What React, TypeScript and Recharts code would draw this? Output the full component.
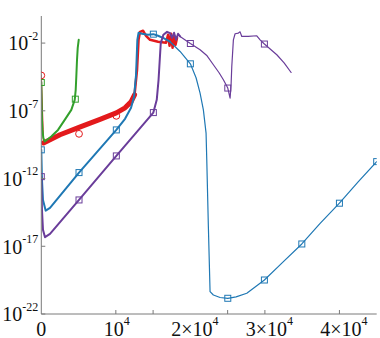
import React from 'react';
import { ComposedChart, Line, Scatter, XAxis, YAxis } from 'recharts';

// ---- data (x in iterations, y as log10 exponents) ----
const greenX = [0, 90, 160, 270, 456, 1342, 2241, 3141, 4027, 4483, 4617, 4698, 4792, 4886, 5020];
const greenE = [-4.88, -7.67, -8.41, -9.0, -9.27, -8.9, -8.41, -7.67, -6.93, -6.19, -5.45, -4.47, -3.23, -2.35, -1.76];
const greenMarkX = [0, 4564];
const greenMarkE = [-4.91, -6.14];

const redStartX = [0, 228, 295];
const redStartE = [-4.39, -8.26, -9.37];
const redBandX = [295, 2510, 5060, 7879, 10067, 11235, 12040, 12510];
const redBandE = [-9.37, -8.77, -8.22, -7.63, -7.15, -6.78, -6.34, -5.82];
const redTopX = [12510, 12846, 13047, 13248, 13651, 14054, 14591, 15664, 16738, 17007, 17208, 17409, 17611, 17812, 18013, 18215];
const redTopE = [-5.82, -3.97, -1.76, -1.17, -1.09, -1.46, -1.76, -1.9, -1.98, -1.39, -2.2, -1.31, -2.35, -1.46, -2.13, -1.61];
const redMarkX = [0, 5060, 10067];
const redMarkE = [-4.39, -8.7, -7.37];

const blueAX = [0, 90, 228, 591, 1168, 5060, 10067, 11235, 12040, 12443, 12711, 12886, 13047, 13517, 14322, 15034, 15664, 16470, 17275];
const blueAE = [-9.88, -12.1, -13.58, -14.37, -14.17, -11.56, -8.41, -7.59, -6.78, -5.97, -4.34, -1.76, -1.24, -1.31, -1.39, -1.34, -1.46, -1.65, -1.9];
const blueBX = [17275, 18617, 20000, 20765, 21302, 21745, 22107, 22201, 22416, 22644, 23087, 23986, 25020, 26134, 27570, 29933, 32309, 34953, 37409, 40000, 42510, 45000];
const blueBE = [-1.9, -2.62, -3.53, -4.56, -5.69, -6.93, -8.65, -10.62, -15.55, -20.35, -20.6, -20.78, -20.84, -20.74, -20.47, -19.49, -18.23, -16.83, -15.31, -13.82, -12.25, -10.75];
const blueMarkX = [0, 5060, 10067, 15034, 20000, 25020, 29933, 34953, 40000, 45000];
const blueMarkE = [-9.88, -11.56, -8.41, -1.34, -3.53, -20.84, -19.49, -16.83, -13.82, -10.75];

const purpleAX = [0, 90, 228, 497, 1168, 5060, 10067, 15034, 15490, 15732, 15839, 16027, 16376, 16873, 17275, 17543, 17812, 18080, 18349, 18617];
const purpleAE = [-11.86, -14.32, -15.79, -16.33, -16.09, -13.58, -10.33, -7.13, -6.19, -4.71, -3.73, -2.0, -1.39, -1.17, -1.26, -1.61, -1.24, -1.76, -1.31, -1.51];
const purpleBX = [18617, 20000, 21302, 22242, 23087, 23852, 24430, 25020, 25329, 25463, 25557, 25772, 26000, 26443, 26671, 26899, 27745, 28913, 29356, 29933, 31597, 32577, 33517];
const purpleBE = [-1.51, -2.03, -2.49, -2.94, -3.6, -4.19, -4.71, -5.32, -6.06, -5.08, -3.73, -1.76, -1.31, -1.26, -1.17, -1.51, -1.5, -1.46, -1.76, -2.07, -2.86, -3.46, -4.17];
const purpleMarkX = [0, 5060, 10067, 15034, 20000, 25020, 29933];
const purpleMarkE = [-11.86, -13.58, -10.33, -7.13, -2.03, -5.32, -2.07];

const xTickValues = [0, 10000, 15000, 20000, 25000, 30000, 40000];
const xTickMarkValues = [10000, 15000, 25000, 30000, 40000];
const xLabelValues = [0, 10000, 20000, 30000, 40000];
const xLabelBase = ['0', '10', '2\u00d710', '3\u00d710', '4\u00d710'];
const xLabelSup = ['', '4', '4', '4', '4'];

const yTickExps = [-22, -17, -12, -7, -2];

const COLORS = { green: '#33a02c', red: '#e31a1c', blue: '#1f78b4', purple: '#6a3d9a' };
const FONT = "'Liberation Serif', 'Times New Roman', 'DejaVu Serif', serif";
const AXIS = '#7a7a7a';

const pts = (xs: number[], es: number[]) => xs.map((x, i) => ({ x, y: Math.pow(10, es[i]) }));
const yTicks = yTickExps.map((e) => Math.pow(10, e));

const XTickBottom = (props: any) => {
  const { x, y, payload } = props;
  const v = payload.value;
  const li = xLabelValues.indexOf(v);
  const mark = xTickMarkValues.includes(v);
  return (
    <g>
      {mark && <line x1={x} x2={x} y1={y} y2={y - 4} stroke={AXIS} strokeWidth={1} />}
      {li >= 0 && (
        <text
          x={x + (li >= 2 ? 4.5 : li === 1 ? 1 : 0)}
          y={y + 21.5}
          textAnchor="middle"
          fill="#111"
          style={{ fontFamily: FONT }}
        >
          <tspan fontSize={20}>{xLabelBase[li]}</tspan>
          {xLabelSup[li] && (
            <tspan fontSize={12} dy={-10.5}>
              {xLabelSup[li]}
            </tspan>
          )}
        </text>
      )}
    </g>
  );
};

const XTickTop = (props: any) => {
  const { x, y, payload } = props;
  if (!xTickMarkValues.includes(payload.value)) return <g />;
  return <line x1={x} x2={x} y1={y} y2={y + 4} stroke={AXIS} strokeWidth={1} />;
};

const YTickLeft = (props: any) => {
  const { x, y, index } = props;
  const e = yTickExps[index];
  return (
    <g>
      <line x1={x} x2={x + 4} y1={y} y2={y} stroke={AXIS} strokeWidth={1} />
      <text x={x - 3} y={y + 7.4} textAnchor="end" fill="#111" style={{ fontFamily: FONT }}>
        <tspan fontSize={20}>10</tspan>
        <tspan fontSize={12} dy={-10.5}>{String(e)}</tspan>
      </text>
    </g>
  );
};

const YTickRight = (props: any) => {
  const { x, y } = props;
  return <line x1={x} x2={x - 4} y1={y} y2={y} stroke={AXIS} strokeWidth={1} />;
};

const square = (color: string) => (p: any) => (
  <rect x={p.cx - 3} y={p.cy - 3} width={6} height={6} fill="none" stroke={color} strokeWidth={1} />
);
const circle = (color: string) => (p: any) => (
  <circle cx={p.cx} cy={p.cy} r={3.4} fill="none" stroke={color} strokeWidth={1} />
);

export default function App() {
  const lineProps = { type: 'linear' as const, dataKey: 'y', dot: false, isAnimationActive: false, strokeLinejoin: 'round' as const, strokeLinecap: 'round' as const };
  return (
    <div style={{ position: 'absolute', left: 0, top: 0, width: 380, height: 338, background: '#fff' }}>
      <ComposedChart width={380} height={338} margin={{ top: 16, right: 3.3, bottom: 0, left: 0 }}>
        <XAxis
          xAxisId={0}
          type="number"
          dataKey="x"
          domain={[0, 45000]}
          allowDataOverflow
          ticks={xTickValues}
          interval={0}
          tickSize={0}
          tickMargin={0}
          tickLine={false}
          height={24}
          axisLine={{ stroke: AXIS }}
          tick={<XTickBottom />}
        />
        <XAxis
          xAxisId="top"
          orientation="top"
          type="number"
          domain={[0, 45000]}
          allowDataOverflow
          ticks={xTickMarkValues}
          interval={0}
          tickSize={0}
          tickMargin={0}
          tickLine={false}
          height={0}
          axisLine={{ stroke: AXIS }}
          tick={<XTickTop />}
        />
        <YAxis
          yAxisId={0}
          type="number"
          dataKey="y"
          scale="log"
          domain={[1e-22, 1]}
          allowDataOverflow
          ticks={yTicks}
          interval={0}
          tickSize={0}
          tickMargin={0}
          tickLine={false}
          width={41.3}
          axisLine={{ stroke: AXIS }}
          tick={<YTickLeft />}
        />
        <YAxis
          yAxisId="right"
          orientation="right"
          type="number"
          scale="log"
          domain={[1e-22, 1]}
          allowDataOverflow
          ticks={yTicks}
          interval={0}
          tickSize={0}
          tickMargin={0}
          tickLine={false}
          width={0}
          axisLine={{ stroke: AXIS }}
          tick={<YTickRight />}
        />
        <Line {...lineProps} data={pts(redStartX, redStartE)} stroke={COLORS.red} strokeWidth={1.2} />
        <Line {...lineProps} data={pts(redBandX, redBandE)} stroke={COLORS.red} strokeWidth={5} />
        <Line {...lineProps} data={pts(redTopX, redTopE)} stroke={COLORS.red} strokeWidth={2.5} />
        <Line {...lineProps} data={pts(greenX, greenE)} stroke={COLORS.green} strokeWidth={2} />
        <Line {...lineProps} data={pts(blueAX, blueAE)} stroke={COLORS.blue} strokeWidth={2} />
        <Line {...lineProps} data={pts(blueBX, blueBE)} stroke={COLORS.blue} strokeWidth={1.2} />
        <Line {...lineProps} data={pts(purpleAX, purpleAE)} stroke={COLORS.purple} strokeWidth={2} />
        <Line {...lineProps} data={pts(purpleBX, purpleBE)} stroke={COLORS.purple} strokeWidth={1.2} />
        <Scatter data={pts(greenMarkX, greenMarkE)} dataKey="y" isAnimationActive={false} shape={square(COLORS.green)} />
        <Scatter data={pts(blueMarkX, blueMarkE)} dataKey="y" isAnimationActive={false} shape={square(COLORS.blue)} />
        <Scatter data={pts(purpleMarkX, purpleMarkE)} dataKey="y" isAnimationActive={false} shape={square(COLORS.purple)} />
        <Scatter data={pts(redMarkX, redMarkE)} dataKey="y" isAnimationActive={false} shape={circle(COLORS.red)} />
      </ComposedChart>
    </div>
  );
}
